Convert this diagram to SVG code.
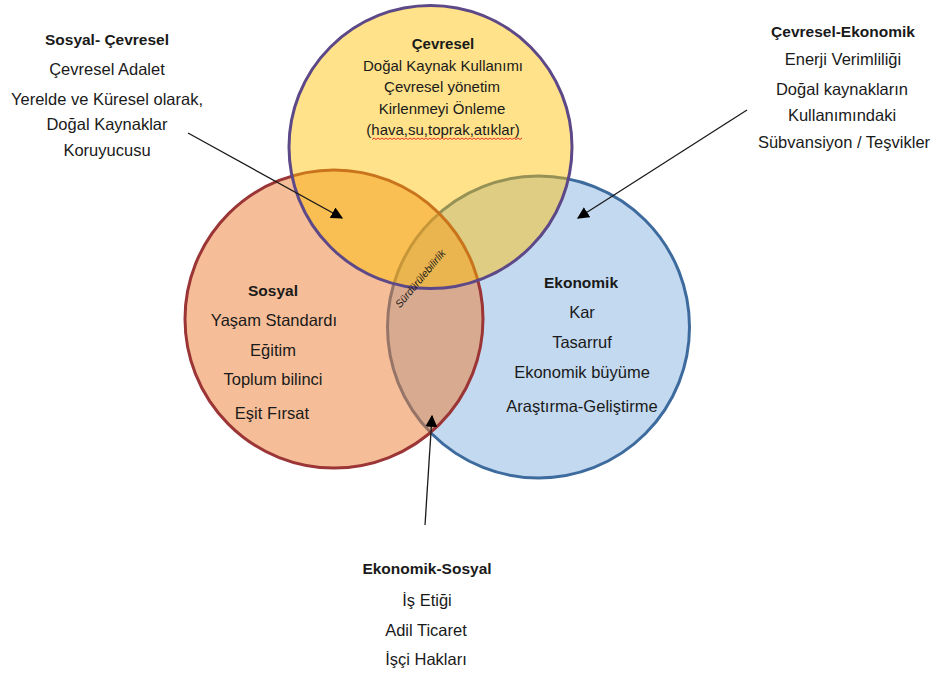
<svg xmlns="http://www.w3.org/2000/svg" width="936" height="675" viewBox="0 0 936 675">
<style>
text{font-family:"Liberation Sans",Arial,sans-serif;fill:#1a1a1a;text-anchor:middle}
.t{font-size:16.5px}
.c{font-size:15px}
.b{font-weight:bold;font-size:15.5px}
.conn{stroke:#1a1a1a;stroke-width:1.3;fill:none;marker-end:url(#ah)}
</style>
<defs>
<marker id="ah" viewBox="0 0 10 10" refX="9" refY="5" markerWidth="12" markerHeight="12" markerUnits="userSpaceOnUse" orient="auto">
<path d="M0,0 L10,5 L0,10 z" fill="#000"/>
</marker>
</defs>
<rect width="936" height="675" fill="#fff"/>
<g id="ekonomik">
<circle cx="538.5" cy="327" r="151" fill="#c3d9f0" stroke="#3e6b9e" stroke-width="3"/>
</g>
<g id="sosyal">
<circle cx="334" cy="319" r="149" fill="#ed7d31" fill-opacity="0.5" stroke="#9b3536" stroke-width="3"/>
</g>
<g id="cevresel">
<circle cx="430.5" cy="147" r="141.5" fill="#ffc000" fill-opacity="0.46" stroke="#5d4888" stroke-width="3"/>
</g>
<g id="labels-cevresel">
<text class="c" x="443" y="49" font-weight="bold">Çevresel</text>
<text class="c" x="443" y="71">Doğal Kaynak Kullanımı</text>
<text class="c" x="442" y="92">Çevresel yönetim</text>
<text class="c" x="442" y="114">Kirlenmeyi Önleme</text>
<text class="c" x="443" y="135">(hava,su,toprak,atıklar)</text>
<path d="M372,139.5 l2,-1.5 2,1.5 2,-1.5 2,1.5 2,-1.5 2,1.5 2,-1.5 2,1.5 2,-1.5 2,1.5 2,-1.5 2,1.5 2,-1.5 2,1.5 2,-1.5 2,1.5 2,-1.5 2,1.5 2,-1.5 2,1.5 2,-1.5 2,1.5 2,-1.5 2,1.5 2,-1.5 2,1.5 2,-1.5 2,1.5 2,-1.5 2,1.5 2,-1.5 2,1.5 2,-1.5 2,1.5 2,-1.5 2,1.5 2,-1.5 2,1.5 2,-1.5 2,1.5 2,-1.5 2,1.5 2,-1.5 2,1.5 2,-1.5 2,1.5 2,-1.5 2,1.5 2,-1.5 2,1.5 2,-1.5 2,1.5 2,-1.5 2,1.5 2,-1.5 2,1.5 2,-1.5 2,1.5 2,-1.5 2,1.5 2,-1.5 2,1.5 2,-1.5 2,1.5 2,-1.5 2,1.5 2,-1.5 2,1.5 2,-1.5 2,1.5 2,-1.5 2,1.5 2,-1.5 2,1.5 2,-1.5" fill="none" stroke="#e02020" stroke-width="0.9"/>
</g>
<g id="labels-sosyal">
<text class="b" x="273" y="296">Sosyal</text>
<text class="t" x="274" y="326">Yaşam Standardı</text>
<text class="t" x="273" y="356">Eğitim</text>
<text class="t" x="273" y="385">Toplum bilinci</text>
<text class="t" x="272" y="419">Eşit Fırsat</text>
</g>
<g id="labels-ekonomik">
<text class="b" x="581" y="288">Ekonomik</text>
<text class="t" x="582" y="318">Kar</text>
<text class="t" x="582" y="348">Tasarruf</text>
<text class="t" x="582" y="378">Ekonomik büyüme</text>
<text class="t" x="582" y="412">Araştırma-Geliştirme</text>
</g>
<g id="center">
<text x="0" y="0" font-size="10.5" font-style="italic" transform="translate(423,281) rotate(-50)">Sürdürülebilirlik</text>
</g>
<g id="sosyal-cevresel">
<text class="b" x="107" y="45">Sosyal- Çevresel</text>
<text class="t" x="107" y="75">Çevresel Adalet</text>
<text class="t" x="107" y="105">Yerelde ve Küresel olarak,</text>
<text class="t" x="107" y="130">Doğal Kaynaklar</text>
<text class="t" x="107" y="156">Koruyucusu</text>
</g>
<g id="cevresel-ekonomik">
<text class="b" x="843" y="37">Çevresel-Ekonomik</text>
<text class="t" x="843" y="65">Enerji Verimliliği</text>
<text class="t" x="842" y="95">Doğal kaynakların</text>
<text class="t" x="842" y="121">Kullanımındaki</text>
<text class="t" x="844" y="148">Sübvansiyon / Teşvikler</text>
</g>
<g id="ekonomik-sosyal">
<text class="b" x="427" y="574">Ekonomik-Sosyal</text>
<text class="t" x="427" y="606">İş Etiği</text>
<text class="t" x="426" y="636">Adil Ticaret</text>
<text class="t" x="426" y="665">İşçi Hakları</text>
</g>
<g id="connectors">
<line class="conn" x1="188" y1="133" x2="342" y2="218"/>
<line class="conn" x1="747" y1="110" x2="578" y2="218"/>
<line class="conn" x1="425" y1="525" x2="432" y2="416"/>
</g>
</svg>
